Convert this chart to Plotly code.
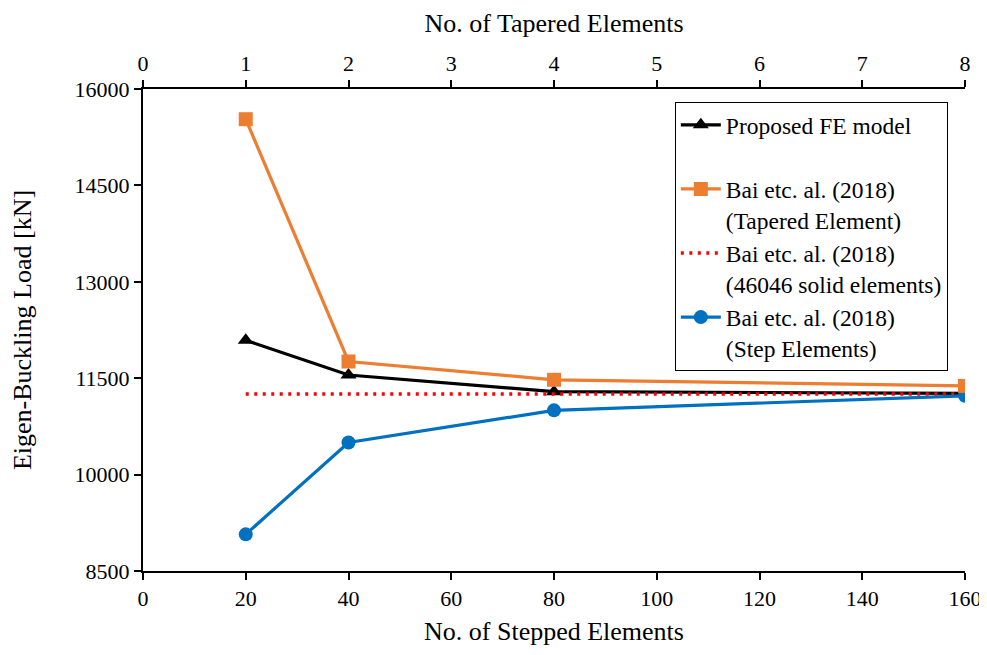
import plotly.graph_objects as go

stepped_x = [20, 40, 80, 160]
tapered_x = [1, 2, 4, 8]
proposed_fe = [12090, 11550, 11290, 11265]
bai_tapered = [15530, 11760, 11475, 11380]
bai_solid = [11255, 11255]
solid_x = [20, 160]
bai_step = [9070, 10500, 11000, 11225]
y_ticks = [8500, 10000, 11500, 13000, 14500, 16000]

FONT = "Liberation Serif, Times New Roman, serif"

fig = go.Figure()
fig.add_trace(go.Scatter(
    x=stepped_x, y=proposed_fe, mode="lines+markers",
    name="Proposed FE model<br> ", legendgroup="a",
    line=dict(color="black", width=3.2),
    marker=dict(symbol="triangle-up", size=14, color="black")))
fig.add_trace(go.Scatter(
    x=tapered_x, y=bai_tapered, mode="lines+markers", xaxis="x2",
    name="Bai etc. al. (2018)<br>(Tapered Element)", legendgroup="b",
    line=dict(color="#ED7D31", width=3.2),
    marker=dict(symbol="square", size=14, color="#ED7D31")))
fig.add_trace(go.Scatter(
    x=solid_x, y=bai_solid, mode="lines",
    name="Bai etc. al. (2018)<br>(46046 solid elements)", legendgroup="c",
    line=dict(color="#FF0000", width=3.5, dash="3px,5.5px")))
fig.add_trace(go.Scatter(
    x=stepped_x, y=bai_step, mode="lines+markers",
    name="Bai etc. al. (2018)<br>(Step Elements)", legendgroup="d",
    line=dict(color="#0070C0", width=3.2),
    marker=dict(symbol="circle", size=14, color="#0070C0")))

axis_common = dict(showgrid=False, zeroline=False, showline=True,
                   linecolor="black", linewidth=2, ticks="outside",
                   ticklen=7, tickwidth=2, tickcolor="black",
                   tickfont=dict(size=22), automargin=False,
                   ticklabeloverflow="allow")

fig.update_layout(
    width=978, height=639,
    margin=dict(l=135, r=21, t=81, b=76),
    paper_bgcolor="white", plot_bgcolor="white",
    font=dict(family=FONT, size=22, color="black"),
    xaxis=dict(range=[0, 160], tickvals=list(range(0, 161, 20)),
               title=dict(text="No. of Stepped Elements", standoff=11,
                          font=dict(size=26)), **axis_common),
    xaxis2=dict(range=[0, 8], tickvals=list(range(0, 9)), overlaying="x",
                side="top", anchor="y",
                title=dict(text="No. of Tapered Elements", standoff=11,
                           font=dict(size=26)), **axis_common),
    yaxis=dict(range=[8500, 16000], tickvals=y_ticks, tickformat="d",
               title=dict(text="Eigen-Buckling Load [kN]", standoff=38,
                          font=dict(size=26)), **axis_common),
    legend=dict(x=0.647, y=0.973, xanchor="left", yanchor="top",
                bgcolor="white", bordercolor="black", borderwidth=1,
                font=dict(family=FONT, size=23.5), valign="top",
                tracegroupgap=0, itemwidth=40),
    showlegend=True,
)

fig.write_html("out.html")
